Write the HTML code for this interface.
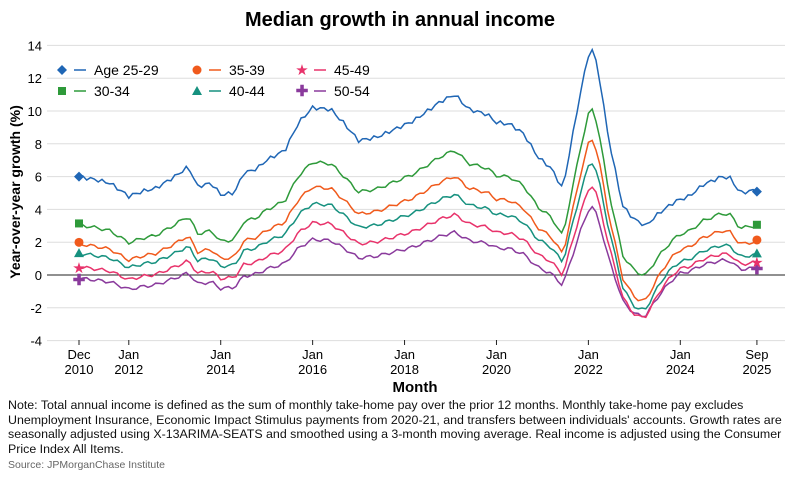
<!DOCTYPE html>
<html><head><meta charset="utf-8"><style>
body{margin:0;background:#fff;font-family:"Liberation Sans",sans-serif;}
svg{display:block}
.n{position:absolute;left:8px;top:398px;width:775px;font-size:12.4px;line-height:14.5px;color:#111}
.s{position:absolute;left:8px;top:459px;font-size:10.5px;color:#666}
</style></head><body>
<div style="position:relative;width:800px;height:477px;overflow:hidden">
<svg id="c" width="800" height="477" font-family="Liberation Sans, sans-serif"></svg>
<div class="n">Note: Total annual income is defined as the sum of monthly take-home pay over the prior 12 months. Monthly take-home pay excludes Unemployment Insurance, Economic Impact Stimulus payments from 2020-21, and transfers between individuals' accounts. Growth rates are seasonally adjusted using X-13ARIMA-SEATS and smoothed using a 3-month moving average. Real income is adjusted using the Consumer Price Index All Items.</div>
<div class="s">Source: JPMorganChase Institute</div>
</div>
<script>
var s=document.getElementById('c'),h='';
function Y(v){return 275-v*16.4}
function X(m){return 79+m*3.83}
h+='<text x="400" y="26" text-anchor="middle" font-size="20" font-weight="bold">Median growth in annual income</text>';
for(var v=-4;v<=14;v+=2){h+='<line x1="47" x2="785" y1="'+Y(v)+'" y2="'+Y(v)+'" stroke="'+(v==0?'#222':'#ddd')+'" stroke-width="1"/>';
h+='<text x="42" y="'+(Y(v)+5)+'" text-anchor="end" font-size="13">'+v+'</text>';}
h+='<text transform="translate(20,192) rotate(-90)" text-anchor="middle" font-size="14" font-weight="bold">Year-over-year growth (%)</text>';
var xl=[[0,'Dec','2010'],[13,'Jan','2012'],[37,'Jan','2014'],[61,'Jan','2016'],[85,'Jan','2018'],[109,'Jan','2020'],[133,'Jan','2022'],[157,'Jan','2024'],[177,'Sep','2025']];
xl.forEach(function(a){var x=X(a[0]);h+='<line x1="'+x+'" x2="'+x+'" y1="340" y2="345" stroke="#222"/><text x="'+x+'" y="359" text-anchor="middle" font-size="13">'+a[1]+'</text><text x="'+x+'" y="374" text-anchor="middle" font-size="13">'+a[2]+'</text>'});
h+='<text x="415" y="392" text-anchor="middle" font-size="15" font-weight="bold">Month</text>';
var K=[[2010.92,6],[2011.3,5.8],[2011.6,5.6],[2012,4.8],[2012.3,5.1],[2012.6,5.3],[2013,6],[2013.3,6.6],[2013.5,5.4],[2013.8,5.6],[2014,4.9],[2014.3,5.0],[2014.5,6.2],[2014.8,6.5],[2015,7.0],[2015.4,7.6],[2015.7,9.3],[2016,10.2],[2016.4,10.1],[2016.7,9.2],[2017,8.2],[2017.4,8.4],[2017.8,8.9],[2018.2,9.4],[2018.5,10.0],[2018.8,10.6],[2019.1,11.0],[2019.4,10.1],[2019.8,9.8],[2020,9.3],[2020.3,9.2],[2020.6,8.6],[2020.9,7.2],[2021.2,6.5],[2021.45,5.2],[2021.6,7.6],[2021.85,11.4],[2022.05,14.0],[2022.2,12.8],[2022.45,8.2],[2022.75,4.2],[2023.0,3.4],[2023.25,3.0],[2023.55,3.8],[2023.9,4.5],[2024.2,4.8],[2024.5,5.5],[2024.9,6.0],[2025.1,5.9],[2025.3,5.0],[2025.67,5.2]];
function base(t){for(var i=0;i<K.length-1;i++){if(t<=K[i+1][0]){var f=(t-K[i][0])/(K[i+1][0]-K[i][0]);return K[i][1]+f*(K[i+1][1]-K[i][1]);}}return K[K.length-1][1];}
var G=[['#1f66b5',1,0,0,'d','Age 25-29',0],['#2e9a3a',0.91,-2.4,-0.3,'s','30-34',0.7],['#f05a1c',0.825,-3.05,-0.8,'c','35-39',0.8],['#16917f',0.72,-3.0,-1.0,'t','40-44',0.5],['#e8336b',0.64,-3.35,-0.9,'r','45-49',0.8],['#8a3a9c',0.5625,-3.575,-0.5,'p','50-54',1.1]];
function mk(t,c,x,y){if(t=='d')return '<polygon points="'+x+','+(y-5)+' '+(x+5)+','+y+' '+x+','+(y+5)+' '+(x-5)+','+y+'" fill="'+c+'"/>';
if(t=='s')return '<rect x="'+(x-4)+'" y="'+(y-4)+'" width="8" height="8" fill="'+c+'"/>';
if(t=='c')return '<circle cx="'+x+'" cy="'+y+'" r="4.5" fill="'+c+'"/>';
if(t=='t')return '<polygon points="'+x+','+(y-5)+' '+(x+5)+','+(y+4)+' '+(x-5)+','+(y+4)+'" fill="'+c+'"/>';
if(t=='r')return '<text x="'+x+'" y="'+(y+5)+'" text-anchor="middle" font-size="15" fill="'+c+'">★</text>';
return '<text x="'+x+'" y="'+(y+5)+'" text-anchor="middle" font-size="15" font-weight="bold" fill="'+c+'">✚</text>';}
for(var g=G.length-1;g>=0;g--){var q=G[g],p='',ys=[];
for(var m=0;m<=177;m++){var t=2010.92+m/12,b=base(t);var d=Math.exp(-Math.pow((t-2023.1)/0.45,2))*q[3]*1.4;
var late=Math.max(0,Math.min(1,(t-2023.2)/0.8))*q[6];
var v=b*q[1]+q[2]+d+late+(g?0.1*Math.sin(m*1.7+g):0.12*Math.sin(m*2.3));ys.push(v);p+=(m?'L':'M')+X(m).toFixed(1)+','+Y(v).toFixed(1);}
h+='<path d="'+p+'" fill="none" stroke="'+q[0]+'" stroke-width="1.5"/>';
h+=mk(q[4],q[0],X(0),Y(ys[0]))+mk(q[4],q[0],X(177),Y(ys[177]));}
for(var i=0;i<6;i++){var q=G[i];
var px={0:62,1:62,2:197,3:197,4:302,5:302}[i],py={0:70,1:91,2:70,3:91,4:70,5:91}[i];
h+=mk(q[4],q[0],px,py)+'<line x1="'+(px+12)+'" x2="'+(px+24)+'" y1="'+py+'" y2="'+py+'" stroke="'+q[0]+'" stroke-width="1.5"/><text x="'+(px+32)+'" y="'+(py+5)+'" font-size="14">'+q[5]+'</text>';}
s.innerHTML=h;
</script>
</body></html>
